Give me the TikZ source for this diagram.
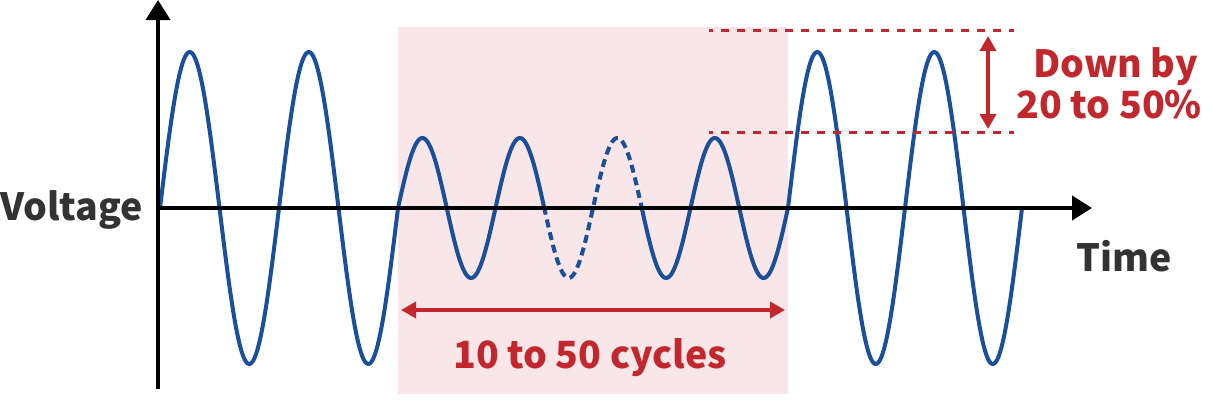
\documentclass[tikz,border=0pt]{standalone}
\usepackage{fontspec}
\setmainfont{Noto Sans CJK JP}
\usetikzlibrary{arrows.meta}
\definecolor{wblue}{HTML}{1A4F9C}
\definecolor{mred}{HTML}{C1272D}
\definecolor{bgpink}{HTML}{F8E6E8}
\definecolor{tgray}{HTML}{333333}
\begin{document}
\begin{tikzpicture}[x=1pt,y=-1pt,
  wave/.style={draw=wblue,line width=4pt,line join=round,line cap=round},
  wavedash/.style={wave,line cap=butt,dash pattern=on 8pt off 5pt},
  axis/.style={draw=black,line width=4pt,-{Triangle[length=20pt,width=24pt]}},
  guide/.style={draw=mred,line width=3pt,dash pattern=on 8pt off 8pt,dash phase=4pt},
  dim/.style={draw=mred,line width=3.5pt,{Triangle[length=15pt,width=16pt]}-{Triangle[length=15pt,width=16pt]}},
  lbl/.style={inner sep=0pt,font=\bfseries\fontsize{37.5}{45}\selectfont},
  axlbl/.style={lbl,text=tgray},
  redlbl/.style={lbl,text=mred}]
\useasboundingbox (0,0) rectangle (1217,407);
% shaded interval
\fill[bgpink] (398,27) rectangle (788,394);
% waveform
\draw[wave] plot[domain=160:398,samples=200] (\x,{208-156*sin((\x-160)/119*360)});
\draw[wave] plot[domain=398:544,samples=120] (\x,{208-70*sin((\x-398)/97.5*360)});
\draw[wavedash] plot[domain=544:641.5,samples=100] (\x,{208-70*sin((\x-398)/97.5*360)});
\draw[wave] plot[domain=641.5:788,samples=120] (\x,{208-70*sin((\x-398)/97.5*360)});
\draw[wave] plot[domain=788:1022,samples=200] (\x,{208-156*sin((\x-788)/117*360)});
% axes
\coordinate (ybot) at (158,389);
\coordinate (ytop) at (158,0);
\coordinate (O) at (156,208);
\coordinate (xend) at (1092,208);
\draw[axis] (ybot) -- (ytop);
\draw[axis] (O) -- (xend);
\node[axlbl,anchor=base west] (vlab) at (0,220) {Voltage};
\node[axlbl,anchor=base west] (tlab) at (1076,271) {Time};
% amplitude guides
\coordinate (t1) at (709,30);
\coordinate (t2) at (1014,30);
\coordinate (b1) at (709,132);
\coordinate (b2) at (1014,132);
\draw[guide] (t1) -- (t2);
\draw[guide] (b1) -- (b2);
\coordinate (va) at (988,36);
\coordinate (vb) at (988,129);
\draw[dim] (va) -- (vb);
\node[redlbl,anchor=base east] (down1) at (1198,77) {Down by};
\node[redlbl,anchor=base east] (down2) at (1202,118) {20 to 50\%};
% duration
\coordinate (ha) at (401,310);
\coordinate (hb) at (785,310);
\draw[dim] (ha) -- (hb);
\node[redlbl,anchor=base] (cyc) at (590,368) {10 to 50 cycles};
\end{tikzpicture}
\end{document}
